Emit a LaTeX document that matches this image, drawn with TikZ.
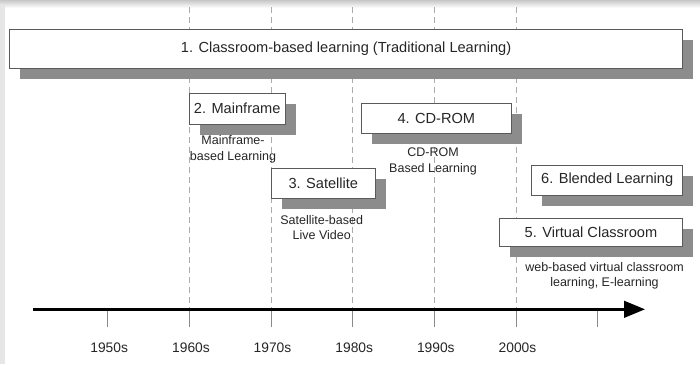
\documentclass[tikz,border=0pt]{standalone}
\usepackage{fontspec}
\setmainfont{Liberation Sans}
\usetikzlibrary{arrows.meta,shadows}
\definecolor{shadowgray}{HTML}{8C8C8C}
\definecolor{boxline}{HTML}{5A5A5A}
\definecolor{dashgray}{HTML}{ABABAB}
\definecolor{tickgray}{HTML}{8A8A8A}
\definecolor{txt}{HTML}{262626}
\definecolor{framegray}{HTML}{E6E6E6}
\begin{document}
\begin{tikzpicture}[x=1pt,y=-1pt,
  era/.style={draw=boxline, line width=0.9pt, fill=white, inner sep=0pt, text=txt,
    font=\fontsize{14.6}{17}\selectfont,
    drop shadow={shadow xshift=10.5pt, shadow yshift=-10.5pt, fill=shadowgray, opacity=1, draw=none}},
  note/.style={align=center, text=txt, font=\fontsize{12.5}{15.5}\selectfont, inner sep=0pt},
  yearlbl/.style={text=txt, font=\fontsize{13.8}{16}\selectfont, inner sep=0pt},
  guide/.style={draw=dashgray, line width=0.8pt, dash pattern=on 6pt off 4pt},
  tickline/.style={draw=tickgray, line width=0.9pt},
  axisline/.style={line width=2.6pt, -{Triangle[length=21pt,width=16.6pt]}}
]
\useasboundingbox (0,0) rectangle (700,364);
% frame
\fill[framegray] (0,0) rectangle (700,364);
\fill[white] (4.5,7) rectangle (700,364);
\shade[top color=black!22, bottom color=white] (0,0) rectangle (700,8);
\fill[framegray] (0,5) rectangle (4.5,364);

% guides
\foreach \gx in {189.5,271,352.7,434.3,516}{
  \draw[guide] (\gx,7) -- (\gx,309);
}
% ticks and labels
\foreach \tx/\lab in {107.7/1950s,189.5/1960s,271/1970s,352.7/1980s,434.3/1990s,516/2000s}{
  \draw[tickline] (\tx,309) -- (\tx,327);
  \node[yearlbl] at (\tx+1.5,347.5) {\lab};
}
\draw[tickline] (597.7,309) -- (597.7,327);

% axis
\coordinate (ax0) at (33,309.3);
\coordinate (ax1) at (645,309.3);
\draw[axisline] (ax0) -- (ax1);

% boxes
\node[era, minimum width=673.2pt, minimum height=39pt] (b1) at (346.1,48.5)
  {1. Classroom-based learning (Traditional Learning)};
\node[era, minimum width=96.5pt, minimum height=30.7pt] (b2) at (237.25,108.65) {2. Mainframe};
\node[era, minimum width=150.7pt, minimum height=30pt] (b4) at (436.35,118.3) {4. CD-ROM};
\node[era, minimum width=103.3pt, minimum height=29.8pt] (b3) at (323.35,183.1) {3. Satellite};
\node[era, minimum width=151pt, minimum height=30pt] (b6) at (607.2,180) {6. Blended Learning};
\node[era, minimum width=183.4pt, minimum height=28.4pt] (b5) at (591,232.5) {5. Virtual Classroom};

% notes
\node[note] (n2) at (233,149.5) {Mainframe-\\based Learning};
\node[note] (n4) at (433,161.5) {CD-ROM\\Based Learning};
\node[note] (n3) at (321.7,227.5) {Satellite-based\\Live Video};
\node[note] (n5) at (604.5,276) {web-based virtual classroom\\learning, E-learning};
\end{tikzpicture}
\end{document}
